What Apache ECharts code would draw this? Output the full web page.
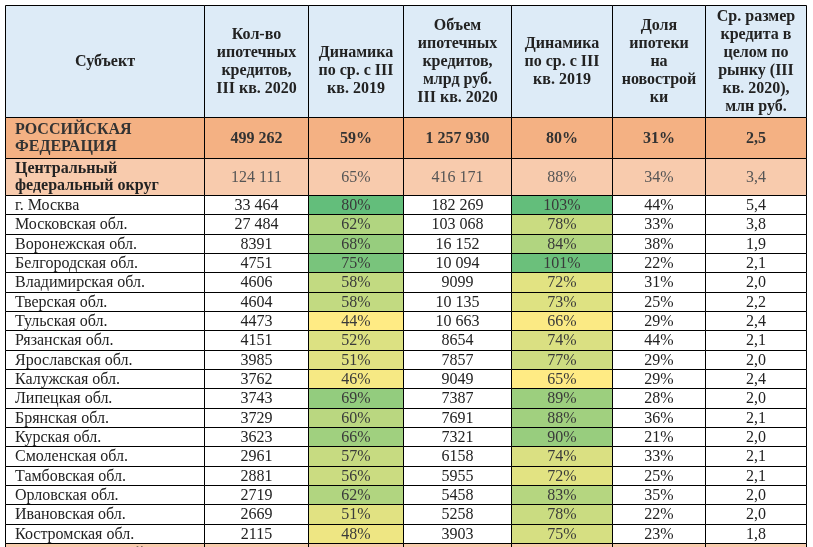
<!DOCTYPE html>
<html>
<head>
<meta charset="utf-8">
<script src="https://cdn.jsdelivr.net/npm/echarts@6/dist/echarts.min.js"></script>
<style>
    html, body {margin: 0; padding: 0; background: #fff;}
    #chart {width: 813px; height: 547px;}
</style>
</head>
<body>
<div id="chart"></div>
<script>
const headers = [
    'Субъект',
    'Кол-во\nипотечных\nкредитов,\nIII кв. 2020',
    '\nДинамика\nпо ср. с III\nкв. 2019',
    'Объем\nипотечных\nкредитов,\nмлрд руб.\nIII кв. 2020',
    'Динамика\nпо ср. с III\nкв. 2019',
    'Доля\nипотеки\nна\nновострой\nки',
    'Ср. размер\nкредита в\nцелом по\nрынку (III\nкв. 2020),\nмлн руб.',
];

const subjects = [
    'РОССИЙСКАЯ\nФЕДЕРАЦИЯ', 'Центральный\nфедеральный округ',
    'г. Москва', 'Московская обл.', 'Воронежская обл.', 'Белгородская обл.',
    'Владимирская обл.', 'Тверская обл.', 'Тульская обл.', 'Рязанская обл.',
    'Ярославская обл.', 'Калужская обл.', 'Липецкая обл.', 'Брянская обл.',
    'Курская обл.', 'Смоленская обл.', 'Тамбовская обл.', 'Орловская обл.',
    'Ивановская обл.', 'Костромская обл.', 'Северо-Западный\nфедеральный округ',
];
const levels = [
    'country', 'district',
    'region', 'region', 'region', 'region', 'region', 'region', 'region', 'region', 'region',
    'region', 'region', 'region', 'region', 'region', 'region', 'region', 'region', 'region',
    'district',
];
const loanCount = [499262, 124111, 33464, 27484, 8391, 4751, 4606, 4604, 4473, 4151, 3985,
    3762, 3743, 3729, 3623, 2961, 2881, 2719, 2669, 2115, null];
const loanGrowth = [59, 65, 80, 62, 68, 75, 58, 58, 44, 52, 51, 46, 69, 60, 66, 57, 56, 62, 51, 48, null];
const loanVolume = [1257930, 416171, 182269, 103068, 16152, 10094, 9099, 10135, 10663, 8654, 7857,
    9049, 7387, 7691, 7321, 6158, 5955, 5458, 5258, 3903, null];
const volumeGrowth = [80, 88, 103, 78, 84, 101, 72, 73, 66, 74, 77, 65, 89, 88, 90, 74, 72, 83, 78, 75, null];
const newBuildShare = [31, 34, 44, 33, 38, 22, 31, 25, 29, 44, 29, 29, 28, 36, 21, 33, 25, 35, 22, 23, null];
const avgLoan = [2.5, 3.4, 5.4, 3.8, 1.9, 2.1, 2.0, 2.2, 2.4, 2.1, 2.0, 2.4, 2.0, 2.1, 2.0, 2.1, 2.1, 2.0, 2.0, 1.8, null];

// layout
const colWidths = [199, 104, 94.5, 108.5, 101, 93, 101];
const levelHeights = {header: 112, country: 41, district: 37, region: 348 / 18};
const levelFills = {header: '#DDEBF7', country: '#F4B183', district: '#F8CBAD', region: '#FFFFFF'};
const fontFamily = '"Liberation Serif", "Times New Roman", serif';
const scaledCols = [2, 4];
const gridLeft = 5;
const gridTop = 5;
const visibleH = 547 - gridTop;

const colEdges = [0];
colWidths.forEach(w => colEdges.push(colEdges[colEdges.length - 1] + w));
const rowLevels = ['header', ...levels];
const rowEdges = [0];
rowLevels.forEach(l => rowEdges.push(rowEdges[rowEdges.length - 1] + levelHeights[l]));
const totalW = colEdges[colEdges.length - 1];


function fmtInt(n) {
    const s = String(n);
    return n >= 10000 ? s.replace(/\B(?=(\d{3})+(?!\d))/g, ' ') : s;
}


function cellText(c, r) {
    if (r === 0) {
        return headers[c];
    }
    const i = r - 1;
    if (c === 0) {
        return subjects[i];
    }
    const cols = [null, loanCount, loanGrowth, loanVolume, volumeGrowth, newBuildShare, avgLoan];
    const v = cols[c][i];
    if (v == null) {
        return '';
    }
    if (c === 1 || c === 3) {
        return fmtInt(v);
    }
    if (c === 6) {
        return v.toFixed(1).replace('.', ',');
    }
    return v + '%';
}


function renderCell(params, api) {
    const c = api.value(0);
    const r = api.value(1);
    const level = rowLevels[r];
    const p0 = api.coord([colEdges[c], rowEdges[r]]);
    const p1 = api.coord([colEdges[c + 1], rowEdges[r + 1]]);
    const x0 = Math.round(p0[0]) + 0.5;
    const y0 = Math.round(p0[1]) + 0.5;
    const x1 = Math.round(p1[0]) + 0.5;
    const y1 = Math.round(p1[1]) + 0.5;
    const fill = params.seriesIndex > 0 ? api.visual('color') : levelFills[level];
    const bold = level === 'header' || level === 'country' || (level === 'district' && c === 0);
    let color = '#222';
    if (level === 'district' && c > 0) {
        color = '#555';
    } else if (level === 'country') {
        color = '#333';
    } else if (params.seriesIndex > 0) {
        color = '#3a3a3a';
    }
    const leftAligned = c === 0 && r > 0;
    return {
        type: 'group',
        children: [{
            type: 'rect',
            shape: {x: x0, y: y0, width: x1 - x0, height: y1 - y0},
            style: {fill, stroke: '#000', lineWidth: 1},
        }, {
            type: 'text',
            style: {
                x: leftAligned ? x0 + 9.5 : (x0 + x1) / 2,
                y: (y0 + y1) / 2 + 0.5,
                text: cellText(c, r),
                align: leftAligned ? 'left' : 'center',
                verticalAlign: 'middle',
                fill: color,
                fontFamily,
                fontSize: 16,
                fontWeight: bold ? 'bold' : 'normal',
                lineHeight: level === 'header' ? 18 : 17.5,
            },
        }],
    };
}


const plainCells = [];
const growthCells = [];
const volumeGrowthCells = [];
for (let r = 0; r < rowLevels.length; r++) {
    for (let c = 0; c < colWidths.length; c++) {
        const scaled = rowLevels[r] === 'region' && scaledCols.includes(c);
        if (scaled && c === 2) {
            growthCells.push([c, r, loanGrowth[r - 1]]);
        } else if (scaled && c === 4) {
            volumeGrowthCells.push([c, r, volumeGrowth[r - 1]]);
        } else {
            plainCells.push([c, r]);
        }
    }
}

const chart = echarts.init(document.getElementById('chart'), null, {renderer: 'canvas'});
chart.setOption({
    animation: false,
    grid: {left: gridLeft, top: gridTop, width: totalW, height: visibleH},
    xAxis: {type: 'value', min: 0, max: totalW, show: false},
    yAxis: {type: 'value', min: 0, max: visibleH, inverse: true, show: false},
    visualMap: [{
        type: 'continuous',
        show: false,
        seriesIndex: 1,
        dimension: 2,
        min: 44,
        max: 80,
        inRange: {color: ['#FFEB84', '#63BE7B']},
    }, {
        type: 'continuous',
        show: false,
        seriesIndex: 2,
        dimension: 2,
        min: 65,
        max: 103,
        inRange: {color: ['#FFEB84', '#63BE7B']},
    }],
    series: [
        {type: 'custom', renderItem: renderCell, data: plainCells, silent: true, clip: false},
        {type: 'custom', renderItem: renderCell, data: growthCells, silent: true, clip: false},
        {type: 'custom', renderItem: renderCell, data: volumeGrowthCells, silent: true, clip: false},
    ],
});
</script>
</body>
</html>
